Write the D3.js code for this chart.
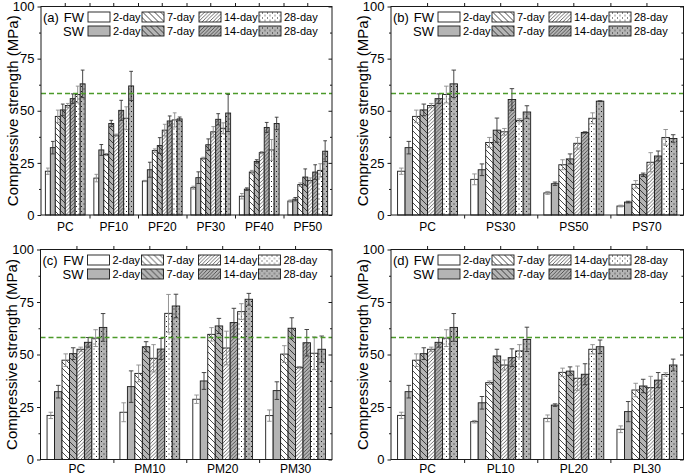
<!DOCTYPE html>
<html><head><meta charset="utf-8">
<script src="https://cdn.jsdelivr.net/npm/d3@7"></script>
<style>
body{margin:0;background:#fff}
svg{display:block}
text{font-family:Arial,"Liberation Sans",sans-serif;fill:#000}
</style>
</head><body>
<svg id="chart" width="685" height="475"></svg>
<script>
// ---------- DATA ----------
const ages = ["2-day","7-day","14-day","28-day"];
const waters = ["FW","SW"];
const yTicks = [0,25,50,75,100];
const yMinor = [12.5,37.5,62.5,87.5];
const threshold = 58.4;
const yTitle = "Compressive strength (MPa)";

// panel (a)
const catsA = ["PC","PF10","PF20","PF30","PF40","PF50"];
const fwA = [[21,47.3,52.5,57.8],[17.7,29,38.3,46.4],[16.3,30.9,40.7,45.6],[13.1,27.2,39.9,41.6],[9,20.6,29.9,31.2],[6.7,14.6,16.6,21.4]];
const swA = [[32.3,50.4,55.8,62.9],[31.2,43.9,50.2,61.9],[21.7,33.3,45.1,46.1],[17.9,33.7,45.9,48.9],[12.4,25.7,42,43.9],[7.6,18.2,20.6,30.6]];
const fwErrA = [[1.5,3,1,4],[1.8,0.5,0.5,5.5],[0.3,0.8,2.8,3.4],[0.7,0.5,2.5,2.6],[1.3,0.8,0.5,5],[0.5,0.8,1.2,3.2]];
const swErrA = [[3,2.8,2.3,6.6],[2.6,1.5,4.8,7],[3.6,3.8,2.4,0.9],[2.8,2.8,2.7,8.9],[0.6,0.8,2.4,3],[0.8,3.9,3.5,5]];

// panel (b)
const catsB = ["PC","PS30","PS50","PS70"];
const fwB = [[21,47.3,52.5,57.8],[17.1,34.8,39.9,45.4],[10.6,24.1,34.4,46.4],[4.3,14.7,25.3,37.2]];
const swB = [[32.3,50.4,55.8,62.9],[21.7,40.7,55.4,49.4],[15,26.9,39.6,54.6],[6.2,19.3,28.3,36.7]];
const fwErrB = [[1.5,3,1,4],[2.6,2.4,1.6,0.8],[0.7,2.4,2.8,2.6],[0.4,1.8,4.6,3.8]];
const swErrB = [[3,2.8,2.3,6.6],[2.8,5.8,5.2,3],[0.8,2.4,0.3,0.2],[0.4,0.8,2.4,1.8]];

// panel (c)
const catsC = ["PC","PM10","PM20","PM30"];
const fwC = [[21,47.3,52.5,57.8],[22.5,41,48.2,69.6],[28.7,59.6,53.1,70.4],[20.9,50.2,43.9,50.6]];
const swC = [[32.3,50.4,55.8,62.9],[34.7,53.7,52.6,73.1],[37.4,63.6,65.2,76.3],[32.8,62.5,55.6,52.5]];
const fwErrC = [[1.5,3,1,4],[4.5,4,6.5,9],[2,3.2,8,3.8],[2.7,4,0.4,7.8]];
const swErrC = [[3,2.8,2.3,6.6],[7.5,2.4,5,5.6],[4,3.6,6.8,2.8],[4.2,5,6.3,6.3]];

// panel (d)
const catsD = ["PC","PL10","PL20","PL30"];
const fwD = [[21,47.3,52.5,57.8],[18,36.6,45,51.7],[19.6,41.5,38.7,52.5],[14.4,33.1,34.2,40.5]];
const swD = [[32.3,50.4,55.8,62.9],[27,49.3,48.5,57.2],[25.9,42.1,40.6,53.7],[22.8,35,37.8,45]];
const fwErrD = [[1.5,3,1,4],[0.6,0.8,2.4,3],[1.6,2,5.8,2.2],[1.6,3.2,5.4,0.8]];
const swErrD = [[3,2.8,2.3,6.6],[3,3.2,4.2,5.8],[0.6,2,5,3.2],[4.8,3.2,3.6,2.8]];

// ---------- STYLE ----------
const SW_GRAY = "#b4b4b4";
const INK = "#1a1a1a";
const svg = d3.select("#chart");
const defs = svg.append("defs");

function makePattern(id, bg, kind){
  let size = kind==="back" ? 6 : kind==="fwd" ? 3.6 : 5;
  const p = defs.append("pattern").attr("id", id).attr("patternUnits","userSpaceOnUse")
    .attr("width", size).attr("height", size);
  p.append("rect").attr("width", size).attr("height", size).attr("fill", bg);
  if (kind==="back"){
    p.append("path").attr("d",`M0,0L${size},${size}M${-size/2},${size/2}L${size/2},${size*1.5}M${size/2},${-size/2}L${size*1.5},${size/2}`)
      .attr("stroke", INK).attr("stroke-width",0.8);
  } else if (kind==="fwd"){
    p.append("path").attr("d",`M0,${size}L${size},0M${-size/2},${size/2}L${size/2},${-size/2}M${size/2},${size*1.5}L${size*1.5},${size/2}`)
      .attr("stroke", INK).attr("stroke-width",0.65);
  } else {
    p.append("rect").attr("x",1).attr("y",1).attr("width",1).attr("height",1).attr("fill",INK);
    p.append("rect").attr("x",3.5).attr("y",3.5).attr("width",1).attr("height",1).attr("fill",INK);
  }
}
const kinds = [null,"back","fwd","dots"];
waters.forEach((w,wi)=>{
  const bg = wi===0 ? "#ffffff" : SW_GRAY;
  kinds.forEach((k,ai)=>{ if(k) makePattern(`pat${ai}${wi}`, bg, k); });
});
function fillFor(ai, wi){
  if (ai===0) return wi===0 ? "#ffffff" : SW_GRAY;
  return `url(#pat${ai}${wi})`;
}

function drawPanel(cfg){
  const {tag, cats, fw, sw, fwErr, swErr, x0, x1, yTop, yBot, labPad} = cfg;
  const g = svg.append("g");
  const x = d3.scaleBand().domain(cats).range([x0,x1]).paddingInner(0.18).paddingOuter(0.09);
  const order = [];
  ages.forEach((a,ai)=>waters.forEach((w,wi)=>order.push({ai,wi})));
  const xs = d3.scaleBand().domain(d3.range(order.length)).range([0, x.bandwidth()]);
  const y = d3.scaleLinear().domain([0,100]).range([yBot, yTop]);
  const xb = d3.scaleLinear().domain([0,cats.length]).range([x0,x1]);

  // bars
  const recs = [];
  cats.forEach((c,gi)=>{
    order.forEach((o,k)=>{
      const vals = o.wi===0 ? fw : sw;
      const errs = o.wi===0 ? fwErr : swErr;
      recs.push({c, k, ai:o.ai, wi:o.wi, v: vals[gi][o.ai], e: errs[gi][o.ai]});
    });
  });
  g.selectAll("rect.bar").data(recs).join("rect").attr("class","bar")
    .attr("x", d=>x(d.c)+xs(d.k)).attr("width", xs.bandwidth())
    .attr("y", d=>y(d.v)).attr("height", d=>y(0)-y(d.v))
    .attr("fill", d=>fillFor(d.ai,d.wi)).attr("stroke", INK).attr("stroke-width",0.9);

  // error bars
  const cap = Math.min(4.5, xs.bandwidth()*0.75);
  const eb = g.selectAll("g.err").data(recs).join("g").attr("class","err")
    .attr("stroke", d=>d.wi===0 ? "#8a8a8a" : "#333").attr("stroke-width",0.9);
  const cx = d=>x(d.c)+xs(d.k)+xs.bandwidth()/2;
  eb.append("line").attr("x1",cx).attr("x2",cx).attr("y1",d=>y(d.v-d.e)).attr("y2",d=>y(d.v+d.e));
  eb.append("line").attr("x1",d=>cx(d)-cap/2).attr("x2",d=>cx(d)+cap/2).attr("y1",d=>y(d.v+d.e)).attr("y2",d=>y(d.v+d.e));
  eb.append("line").attr("x1",d=>cx(d)-cap/2).attr("x2",d=>cx(d)+cap/2).attr("y1",d=>y(d.v-d.e)).attr("y2",d=>y(d.v-d.e));

  // threshold line (snapped to pixel grid)
  const ty = Math.round(y(threshold)) + 0.5;
  g.append("line").attr("x1",x0).attr("x2",x1).attr("y1",ty).attr("y2",ty)
    .attr("stroke","#4c9a2a").attr("stroke-width",1.4).attr("stroke-dasharray","5,3");

  // frame
  g.append("rect").attr("x",x0).attr("y",yTop).attr("width",x1-x0).attr("height",yBot-yTop)
    .attr("fill","none").attr("stroke",INK).attr("stroke-width",1);

  // left axis
  const la = g.append("g").attr("transform",`translate(${x0},0)`)
    .call(d3.axisLeft(y).tickValues(yTicks).tickSize(3.5).tickPadding(3));
  la.select(".domain").remove();
  la.selectAll("text").attr("font-size",13).attr("font-family",'Arial,"Liberation Sans",sans-serif');
  const lm = g.append("g").attr("transform",`translate(${x0},0)`)
    .call(d3.axisLeft(y).tickValues(yMinor).tickSize(2).tickFormat(""));
  lm.select(".domain").remove();
  // right axis (inward ticks)
  const ra = g.append("g").attr("transform",`translate(${x1},0)`)
    .call(d3.axisLeft(y).tickValues(yTicks).tickSize(3.5).tickFormat(""));
  ra.select(".domain").remove();
  const rm = g.append("g").attr("transform",`translate(${x1},0)`)
    .call(d3.axisLeft(y).tickValues(yMinor).tickSize(2).tickFormat(""));
  rm.select(".domain").remove();

  // bottom axis: boundary ticks + labels
  const bt = g.append("g").attr("transform",`translate(0,${yBot})`)
    .call(d3.axisBottom(xb).tickValues(d3.range(1,cats.length)).tickSize(3.5).tickFormat(""));
  bt.select(".domain").remove();
  const bl = g.append("g").attr("transform",`translate(0,${yBot})`)
    .call(d3.axisBottom(x).tickSize(0).tickPadding(labPad));
  bl.select(".domain").remove();
  bl.selectAll("text").attr("font-size",12).attr("font-family",'Arial,"Liberation Sans",sans-serif');
  // top axis ticks
  const tt = g.append("g").attr("transform",`translate(0,${yTop})`)
    .call(d3.axisTop(xb).tickValues(d3.range(1,cats.length)).tickSize(3.5).tickFormat(""));
  tt.select(".domain").remove();
  const tc = g.append("g").attr("transform",`translate(0,${yTop})`)
    .call(d3.axisTop(x).tickSize(3.5).tickFormat(""));
  tc.select(".domain").remove();
  g.selectAll(".tick line").attr("stroke",INK);

  // y title
  g.append("text").attr("transform",`translate(${x0-29},${(yTop+yBot)/2}) rotate(-90)`)
    .attr("text-anchor","middle").attr("dominant-baseline","central").attr("font-size",15).text(yTitle);

  // legend
  const lg = g.append("g").attr("transform",`translate(${x0},${yTop})`);
  lg.append("text").attr("x",2).attr("y",15).attr("font-size",13).text(tag);
  const rowsY = [5.5, 19.5];
  waters.forEach((w,wi)=>{
    lg.append("text").attr("x",43).attr("y",rowsY[wi]+9.5).attr("text-anchor","end").attr("font-size",13).text(w);
  });
  const swX = [47,101,158,218];
  ages.forEach((a,ai)=>{
    waters.forEach((w,wi)=>{
      lg.append("rect").attr("x",swX[ai]).attr("y",rowsY[wi]).attr("width",22).attr("height",10)
        .attr("fill",fillFor(ai,wi)).attr("stroke",INK).attr("stroke-width",0.9);
      lg.append("text").attr("x",swX[ai]+25).attr("y",rowsY[wi]+9).attr("font-size",11).text(a);
    });
  });
}

drawPanel({tag:"(a)", cats:catsA, fw:fwA, sw:swA, fwErr:fwErrA, swErr:swErrA, x0:41, x1:332, yTop:6.5, yBot:215, labPad:7});
drawPanel({tag:"(b)", cats:catsB, fw:fwB, sw:swB, fwErr:fwErrB, swErr:swErrB, x0:391, x1:683.5, yTop:6.5, yBot:215, labPad:7});
drawPanel({tag:"(c)", cats:catsC, fw:fwC, sw:swC, fwErr:fwErrC, swErr:swErrC, x0:40.5, x1:332, yTop:249.5, yBot:459.5, labPad:4.5});
drawPanel({tag:"(d)", cats:catsD, fw:fwD, sw:swD, fwErr:fwErrD, swErr:swErrD, x0:391, x1:683.5, yTop:249.5, yBot:459.5, labPad:4.5});
</script>
</body></html>
